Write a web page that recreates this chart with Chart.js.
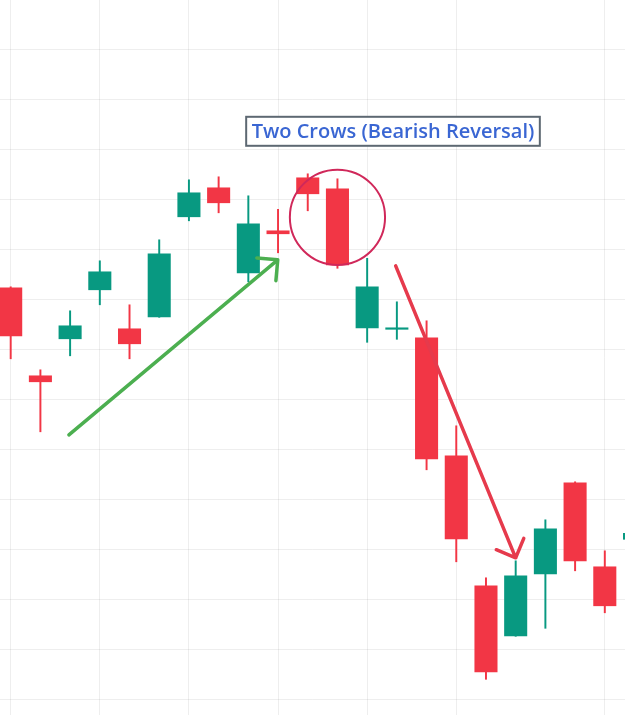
<!DOCTYPE html>
<html>
<head>
<meta charset="utf-8">
<script src="https://cdn.jsdelivr.net/npm/chart.js@4.4.1/dist/chart.umd.min.js"></script>
<style>
  html, body { margin: 0; padding: 0; background: #ffffff; }
  #wrap { width: 625px; height: 715px; position: relative; }
</style>
</head>
<body>
<div id="wrap"><canvas id="chart"></canvas></div>
<script>
// candle positions (bar index) and OHLC values
const bars   = [0, 1, 2, 3, 4, 5, 6, 7, 8, 9, 10, 11, 12, 13, 14, 15, 16, 17, 18, 19, 20, 21];
const opens  = [182.3, 164.7, 172.1, 181.9, 174.1, 176.5, 196.5, 202.3, 185.3, 193.7, 204.3, 202.1, 174.3, 174.0, 172.3, 148.7, 122.7, 112.7, 125.1, 143.3, 126.5, 132.0];
const highs  = [182.5, 165.9, 177.7, 187.7, 178.9, 191.9, 203.9, 204.5, 200.7, 198.0, 205.1, 204.1, 188.2, 179.5, 175.7, 154.7, 124.3, 127.7, 135.9, 143.5, 129.7, 134.5];
const lows   = [168.1, 153.5, 168.7, 178.9, 168.1, 176.4, 195.7, 197.3, 183.5, 189.3, 197.7, 186.2, 171.4, 172.0, 145.9, 127.5, 104.0, 112.6, 114.2, 125.7, 117.3, 130.5];
const closes = [172.7, 163.5, 174.7, 185.5, 171.1, 189.1, 201.3, 199.3, 195.1, 193.1, 201.1, 186.9, 182.5, 174.3, 148.1, 132.1, 105.5, 124.7, 134.1, 127.7, 118.7, 133.2];

// time grid lines and price grid lines
const timeTicks  = [0, 3, 6, 9, 12, 15, 20];
const priceTicks = [100, 110, 120, 130, 140, 150, 160, 170, 180, 190, 200, 210, 220, 230];

const UP = '#089981';
const DOWN = '#f23645';
const colors = bars.map(i => closes[i] >= opens[i] ? UP : DOWN);

// drawings, placed in bar / price units
const notes = {
  label: { x: 12.87, y: 213.6, text: 'Two Crows (Bearish Reversal)' },
  circle: { x: 11.0, y: 196.4, r: 9.52 },
  upArrow: { from: [1.96, 152.9], to: [8.99, 187.9], color: '#4caf50' },
  downArrow: { from: [12.96, 186.7], to: [17.0, 128.3], color: '#e63a4c' }
};

function drawArrow(ctx, x1, y1, x2, y2, color) {
  const ang = Math.atan2(y1 - y2, x1 - x2);
  const len = 21;
  ctx.save();
  ctx.strokeStyle = color;
  ctx.lineWidth = 3.5;
  ctx.lineCap = 'round';
  ctx.lineJoin = 'round';
  ctx.beginPath();
  ctx.moveTo(x1, y1);
  ctx.lineTo(x2, y2);
  ctx.moveTo(x2 + len * Math.cos(ang - Math.PI / 4), y2 + len * Math.sin(ang - Math.PI / 4));
  ctx.lineTo(x2, y2);
  ctx.lineTo(x2 + len * Math.cos(ang + Math.PI / 4), y2 + len * Math.sin(ang + Math.PI / 4));
  ctx.stroke();
  ctx.restore();
}

const drawingsPlugin = {
  id: 'drawings',
  afterDatasetsDraw(chart) {
    const { ctx, scales: { x, y } } = chart;
    const px = v => x.getPixelForValue(v);
    const py = v => y.getPixelForValue(v);

    // up-trend arrow
    const ua = notes.upArrow;
    drawArrow(ctx, px(ua.from[0]), py(ua.from[1]), px(ua.to[0]), py(ua.to[1]), ua.color);

    // circle round the two crows
    const c = notes.circle;
    const r = py(c.y - c.r) - py(c.y);
    ctx.save();
    ctx.strokeStyle = '#d0285a';
    ctx.lineWidth = 2;
    ctx.beginPath();
    ctx.arc(px(c.x), py(c.y), r, 0, Math.PI * 2);
    ctx.stroke();
    ctx.restore();

    // down-trend arrow
    const da = notes.downArrow;
    drawArrow(ctx, px(da.from[0]), py(da.from[1]), px(da.to[0]), py(da.to[1]), da.color);

    // label box
    const l = notes.label;
    ctx.save();
    ctx.font = '600 20px "Open Sans", "Noto Sans", sans-serif';
    const w = ctx.measureText(l.text).width + 11;
    const h = 29;
    const cx = px(l.x), cy = py(l.y);
    ctx.fillStyle = '#ffffff';
    ctx.fillRect(cx - w / 2, cy - h / 2, w, h);
    ctx.strokeStyle = '#5d6872';
    ctx.lineWidth = 2;
    ctx.strokeRect(cx - w / 2, cy - h / 2, w, h);
    ctx.fillStyle = '#3a66d3';
    ctx.textAlign = 'center';
    ctx.textBaseline = 'middle';
    ctx.fillText(l.text, cx, cy + 1);
    ctx.restore();
  }
};

const gridColor = 'rgba(0, 0, 0, 0.065)';

new Chart(document.getElementById('chart'), {
  type: 'bar',
  data: {
    datasets: [
      {
        label: 'wick',
        data: bars.map(i => ({ x: i, y: [lows[i], highs[i]] })),
        backgroundColor: colors,
        barThickness: 1.3,
        grouped: false,
        borderWidth: 0,
        borderSkipped: false,
        order: 2
      },
      {
        label: 'body',
        data: bars.map(i => ({ x: i, y: [opens[i], closes[i]] })),
        backgroundColor: colors,
        barThickness: 22.4,
        grouped: false,
        borderWidth: 0,
        borderSkipped: false,
        order: 1
      }
    ]
  },
  options: {
    responsive: true,
    maintainAspectRatio: false,
    animation: false,
    layout: { padding: 0 },
    plugins: {
      legend: { display: false },
      tooltip: { enabled: false }
    },
    scales: {
      x: {
        type: 'linear',
        offset: false,
        min: -0.36,
        max: 20.68,
        afterBuildTicks: axis => { axis.ticks = timeTicks.map(v => ({ value: v })); },
        ticks: { display: false },
        grid: { color: gridColor, drawTicks: false, offset: false },
        border: { display: false }
      },
      y: {
        type: 'linear',
        min: 96.86,
        max: 239.86,
        afterBuildTicks: axis => { axis.ticks = priceTicks.map(v => ({ value: v })); },
        ticks: { display: false },
        grid: { color: gridColor, drawTicks: false },
        border: { display: false }
      }
    }
  },
  plugins: [drawingsPlugin]
});
</script>
</body>
</html>
